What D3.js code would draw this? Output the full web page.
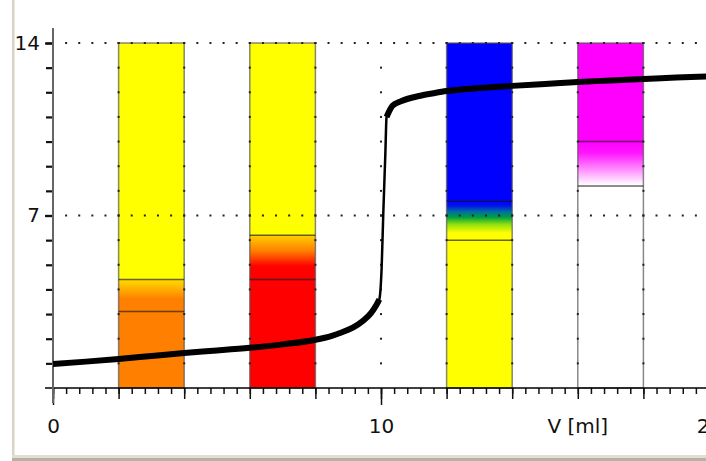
<!DOCTYPE html>
<html lang="en">
<head>
<meta charset="utf-8">
<title>Titration curve with indicators</title>
<script src="https://cdn.jsdelivr.net/npm/d3@7"></script>
<style>
    body { margin: 0; background: #fff; }
    text { font-family: "DejaVu Sans", Verdana, sans-serif; font-size: 20px; fill: #111; }
    .axis .domain { display: none; }
</style>
</head>
<body>
<svg width="706" height="461"></svg>
<script>
// titration curve
const volume = [0, 1, 2, 3, 4, 5, 6, 7, 8, 8.5, 8.75, 9.0, 9.3, 9.5, 9.7, 9.85, 9.95,
    10.02, 10.07, 10.13, 10.17, 10.35, 10.58, 11.2, 11.6, 12, 13, 14, 15, 16, 17, 18, 19, 20];
const pH = [0.97, 1.07, 1.18, 1.30, 1.42, 1.52, 1.63, 1.77, 1.96, 2.12, 2.23, 2.36, 2.58, 2.78, 3.05, 3.35, 3.6,
    4.9, 7.1, 9.4, 11.0, 11.45, 11.62, 11.86, 11.96, 12.05, 12.17, 12.26, 12.34, 12.42, 12.48, 12.54, 12.6, 12.65];

// indicator bars
const indicators = ["methyl orange", "methyl red", "bromothymol blue", "phenolphthalein"];
const barFrom = [2, 6, 12, 16];
const barTo = [4, 8, 14, 18];
const rangeLow = [3.1, 4.4, 6.0, 8.2];
const rangeHigh = [4.4, 6.2, 7.6, 10.0];
const acidColor = ["#ff8000", "#ff0000", "#ffff00", "#ffffff"];
const baseColor = ["#ffff00", "#ffff00", "#0000ff", "#ff00ff"];
// colour stops inside the change zone, top (0) to bottom (1)
const zoneStops = [
    [[0, "#ffdc00"], [0.6, "#ff8000"], [1, "#ff8000"]],
    [[0, "#ffd000"], [0.35, "#ff8000"], [0.7, "#ff0000"], [1, "#ff0000"]],
    [[0, "#0000ff"], [0.12, "#0010f0"], [0.28, "#0070a0"], [0.42, "#00a040"], [0.6, "#90e010"], [0.82, "#ffff00"], [1, "#ffff00"]],
    [[0, "#ff00ff"], [0.25, "#ff14ff"], [0.95, "#fff4ff"], [1, "#ffffff"]]
];

const xTickLabels = [0, 10, 20];
const yTickLabels = [7, 14];
const xLabel = "V [ml]";

const svg = d3.select("svg");
const x = d3.scaleLinear().domain([0, 20]).range([53, 709]);
const y = d3.scaleLinear().domain([0, 14]).range([388, 43]);

// window frame
svg.append("rect").attr("x", 12).attr("y", 0).attr("width", 2.5).attr("height", 458).attr("fill", "#d8d5c6");
svg.append("rect").attr("x", 12).attr("y", 455).attr("width", 694).attr("height", 3).attr("fill", "#e2dfd2");
svg.append("rect").attr("x", 12).attr("y", 458).attr("width", 694).attr("height", 3).attr("fill", "#b4b2a6");

// gradients
const defs = svg.append("defs");
zoneStops.forEach((stops, i) => {
    const g = defs.append("linearGradient").attr("id", "zone" + i)
        .attr("x1", 0).attr("y1", 0).attr("x2", 0).attr("y2", 1);
    g.selectAll("stop").data(stops).join("stop")
        .attr("offset", d => d[0]).attr("stop-color", d => d[1]);
});

const bars = indicators.map((name, i) => ({
    name, from: barFrom[i], to: barTo[i], lo: rangeLow[i], hi: rangeHigh[i],
    acid: acidColor[i], base: baseColor[i], i
}));

const barG = svg.append("g").selectAll("g").data(bars).join("g");
// acid part
barG.append("rect")
    .attr("x", d => x(d.from)).attr("width", d => x(d.to) - x(d.from))
    .attr("y", d => y(d.lo)).attr("height", d => y(0) - y(d.lo))
    .attr("fill", d => d.acid);
// change zone
barG.append("rect")
    .attr("x", d => x(d.from)).attr("width", d => x(d.to) - x(d.from))
    .attr("y", d => y(d.hi)).attr("height", d => y(d.lo) - y(d.hi))
    .attr("fill", d => "url(#zone" + d.i + ")");
// base part
barG.append("rect")
    .attr("x", d => x(d.from)).attr("width", d => x(d.to) - x(d.from))
    .attr("y", y(14)).attr("height", d => y(d.hi) - y(14))
    .attr("fill", d => d.base);
// outline
barG.append("rect")
    .attr("x", d => x(d.from)).attr("width", d => x(d.to) - x(d.from))
    .attr("y", y(14)).attr("height", y(0) - y(14))
    .attr("fill", "none").attr("stroke", "#555").attr("stroke-opacity", 0.7).attr("stroke-width", 1.5);
// range limits
barG.selectAll("line").data(d => [d.lo, d.hi].map(v => ({ v, d }))).join("line")
    .attr("x1", e => x(e.d.from)).attr("x2", e => x(e.d.to))
    .attr("y1", e => y(e.v)).attr("y2", e => y(e.v))
    .attr("stroke", "#000").attr("stroke-opacity", 0.6).attr("stroke-width", 1.5);

// dotted grid
const grid = svg.append("g").attr("fill", "#222");
const xMinor = d3.range(1, 51).map(k => k * 0.4);
yTickLabels.forEach(g => {
    grid.selectAll(null).data(xMinor).join("rect")
        .attr("x", d => x(d) - 1).attr("y", y(g) - 1).attr("width", 2).attr("height", 2);
});
const xMedium = d3.range(1, 11).map(k => k * 2);
const yMinor = d3.range(1, 15);
xMedium.forEach(v => {
    grid.selectAll(null).data(yMinor).join("rect")
        .attr("x", x(v) - 1).attr("y", d => y(d) - 1).attr("width", 2).attr("height", 2);
});

// x axis
const xAxisG = svg.append("g").attr("transform", `translate(0,${y(0)})`);
xAxisG.append("g").attr("class", "axis")
    .call(d3.axisBottom(x).tickValues(d3.range(0, 51).map(k => k * 0.4)).tickSize(6).tickFormat(""));
xAxisG.append("g").attr("class", "axis")
    .call(d3.axisBottom(x).tickValues(d3.range(0, 11).map(k => k * 2)).tickSize(11).tickFormat(""));
xAxisG.append("g").attr("class", "axis")
    .call(d3.axisBottom(x).tickValues(xTickLabels).tickSize(17).tickPadding(14).tickFormat(d3.format("d")));
xAxisG.selectAll(".tick line").attr("stroke", "#111").attr("stroke-width", 1.5);
xAxisG.selectAll("text").style("font-size", "20px").attr("fill", "#111");
xAxisG.append("line").attr("x1", 45).attr("x2", 706).attr("stroke", "#000").attr("stroke-width", 1.5);
xAxisG.append("text").attr("x", x(16)).attr("y", 31).attr("dy", "0.71em")
    .attr("text-anchor", "middle").text(xLabel);

// y axis
const yAxisG = svg.append("g").attr("transform", `translate(${x(0)},0)`);
yAxisG.append("g").attr("class", "axis")
    .call(d3.axisLeft(y).tickValues(yMinor).tickSize(7).tickFormat(""));
yAxisG.append("g").attr("class", "axis")
    .call(d3.axisLeft(y).tickValues(yTickLabels).tickSize(8).tickPadding(5).tickFormat(d3.format("d")));
yAxisG.selectAll(".tick line").attr("stroke", "#111").attr("stroke-width", 2.2);
yAxisG.selectAll("text").style("font-size", "20px").attr("fill", "#111");
yAxisG.append("line").attr("y1", 28).attr("y2", 403).attr("stroke", "#666").attr("stroke-width", 2);

// titration curve
const pts = volume.map((v, i) => ({ v, p: pH[i] }));
const line = d3.line().x(d => x(d.v)).y(d => y(d.p)).curve(d3.curveMonotoneX);
svg.append("path").datum(pts).attr("d", line)
    .attr("fill", "none").attr("stroke", "#000").attr("stroke-width", 2.5);
svg.append("path").datum(pts)
    .attr("d", line.defined(d => d.v < 9.96 || d.v > 10.15))
    .attr("fill", "none").attr("stroke", "#000").attr("stroke-width", 6).attr("stroke-linejoin", "round");
</script>
</body>
</html>
